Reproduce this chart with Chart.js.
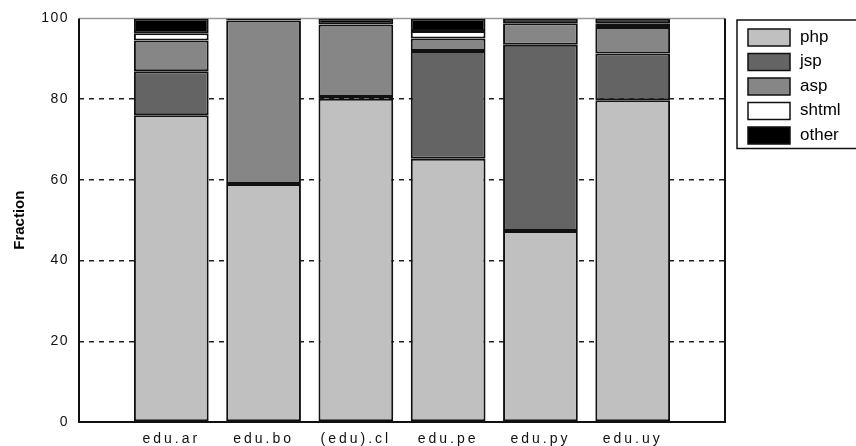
<!DOCTYPE html>
<html>
<head>
<meta charset="utf-8">
<script src="https://cdn.jsdelivr.net/npm/chart.js@4/dist/chart.umd.min.js"></script>
<style>
  html, body { margin: 0; padding: 0; background: #fff; }
  #wrap { width: 856px; height: 446px; position: relative; }
</style>
</head>
<body>
<div id="wrap"><canvas id="fracChart"></canvas></div>
<script>
  // domains along the x axis
  const categories = ['edu.ar', 'edu.bo', '(edu).cl', 'edu.pe', 'edu.py', 'edu.uy'];
  // fraction (%) of pages per technology
  const php   = [76.0, 59.0, 80.1, 65.2, 47.3, 79.7];
  const jsp   = [10.9, null, 0.4, 26.7, 46.2, 11.6];
  const asp   = [7.6, 40.5, 18.0, 3.1, 5.3, 6.6];
  const shtml = [1.8, null, null, 1.9, null, 0.9];
  const other = [3.7, 0.5, 1.5, 3.1, 1.2, 1.2];
  const yTicks = [0, 20, 40, 60, 80, 100];

  // empty slot on each side, like the original plot
  const labels = [''].concat(categories, ['']);
  const pad = arr => [null].concat(arr, [null]);

  function ds(label, data, color) {
    return {
      label: label,
      data: pad(data),
      backgroundColor: color,
      borderColor: '#111',
      borderWidth: 2,
      borderSkipped: false,
      categoryPercentage: 1,
      barPercentage: 0.81
    };
  }

  // letter spacing for the tick labels (old-style spaced font)
  const spacedTicks = {
    id: 'spacedTicks',
    beforeDraw(chart) {
      if (chart._spaced) return;
      chart._spaced = true;
      [['x', '3px'], ['y', '1.5px']].forEach(([id, sp]) => {
        const sc = chart.scales[id];
        const orig = sc.drawLabels;
        sc.drawLabels = function (area) {
          const c = this.ctx;
          c.save();
          c.letterSpacing = sp;
          orig.call(this, area);
          c.restore();
        };
      });
    }
  };

  // plot frame: black left/bottom/right, grey top
  const frame = {
    id: 'frame',
    beforeDatasetsDraw(chart) {
      const { ctx, chartArea: a } = chart;
      ctx.save();
      ctx.strokeStyle = '#999';
      ctx.lineWidth = 1.5;
      ctx.beginPath();
      ctx.moveTo(a.left, a.top); ctx.lineTo(a.right, a.top);
      ctx.stroke();
      ctx.strokeStyle = '#111';
      ctx.lineWidth = 2;
      ctx.beginPath();
      ctx.moveTo(a.left, a.top); ctx.lineTo(a.left, a.bottom);
      ctx.lineTo(a.right, a.bottom); ctx.lineTo(a.right, a.top);
      ctx.stroke();
      ctx.restore();
    }
  };

  // boxed legend at the top right
  const boxLegend = {
    id: 'boxLegend',
    afterDraw(chart) {
      const ctx = chart.ctx;
      const x0 = 737, y0 = 20, rowH = 24.5;
      const items = chart.data.datasets;
      ctx.save();
      ctx.strokeStyle = '#111';
      ctx.lineWidth = 1.5;
      ctx.strokeRect(x0, y0, 130, items.length * rowH + 6);
      ctx.font = '17px "Liberation Sans", Arial, sans-serif';
      ctx.textBaseline = 'middle';
      items.forEach((d, i) => {
        const y = y0 + 9 + i * rowH;
        ctx.fillStyle = d.backgroundColor;
        ctx.fillRect(x0 + 11, y, 42, 17);
        ctx.lineWidth = 1.5;
        ctx.strokeRect(x0 + 11, y, 42, 17);
        ctx.fillStyle = '#000';
        ctx.fillText(d.label, x0 + 63, y + 8);
      });
      ctx.restore();
    }
  };

  const ctx = document.getElementById('fracChart').getContext('2d');
  const chart = new Chart(ctx, {
    type: 'bar',
    data: {
      labels: labels,
      datasets: [
        ds('php', php, '#c0c0c0'),
        ds('jsp', jsp, '#646464'),
        ds('asp', asp, '#868686'),
        ds('shtml', shtml, '#ffffff'),
        ds('other', other, '#000000')
      ]
    },
    options: {
      responsive: true,
      maintainAspectRatio: false,
      animation: false,
      layout: { padding: { left: 0, top: 18, right: 131, bottom: 0 } },
      scales: {
        x: {
          stacked: true,
          offset: false,
          grid: { display: false },
          border: { display: false },
          ticks: {
            color: '#111',
            font: { size: 14, family: '"Liberation Sans", Arial, sans-serif' },
            padding: 1,
            maxRotation: 0,
            autoSkip: false
          },
          afterFit: s => { s.height = 24; }
        },
        y: {
          stacked: true,
          min: 0,
          max: 100,
          afterBuildTicks: s => { s.ticks = yTicks.map(v => ({ value: v })); },
          grid: {
            drawTicks: false,
            color: c => (c.tick.value === 0 || c.tick.value === 100) ? 'rgba(0,0,0,0)' : '#222',
            lineWidth: 1.5
          },
          border: { display: false, dash: [5, 5] },
          ticks: {
            color: '#111',
            font: { size: 14, family: '"Liberation Sans", Arial, sans-serif' },
            padding: 10
          },
          title: {
            display: true,
            text: 'Fraction',
            color: '#000',
            font: { size: 15, weight: 'bold', family: '"Liberation Sans", Arial, sans-serif' },
            padding: { top: 11, bottom: 0 }
          },
          afterFit: s => { s.width = 79; }
        }
      },
      plugins: {
        legend: { display: false },
        tooltip: { enabled: false }
      }
    },
    plugins: [spacedTicks, frame, boxLegend]
  });
</script>
</body>
</html>
